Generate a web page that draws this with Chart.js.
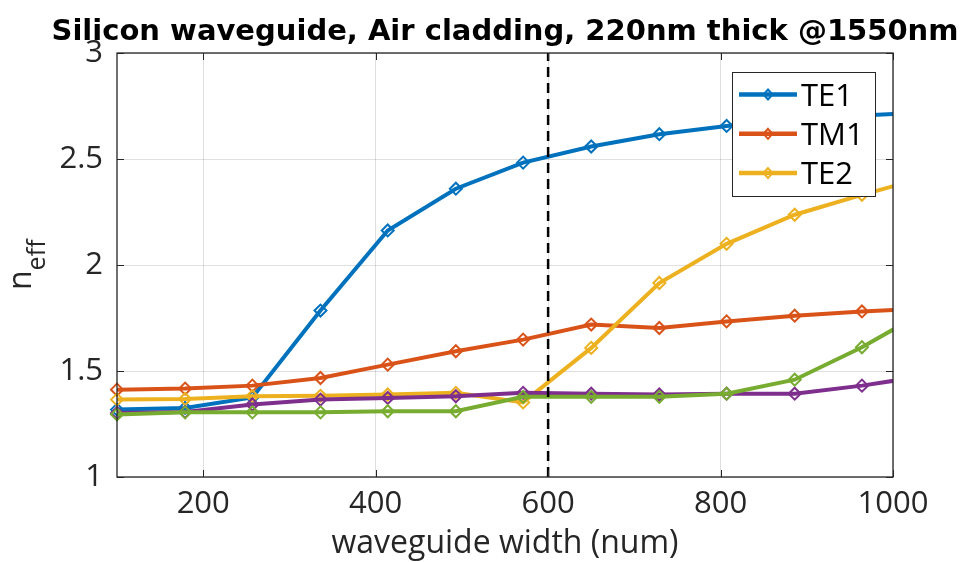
<!DOCTYPE html>
<html>
<head>
<meta charset="utf-8">
<script src="https://cdn.jsdelivr.net/npm/chart.js@4/dist/chart.umd.min.js"></script>
<style>
  html, body { margin: 0; padding: 0; background: #fff; }
  #neff { display: block; }
</style>
</head>
<body>
<canvas id="neff" width="962" height="562"></canvas>
<script>
// waveguide widths (nm) where the modes were solved; last point runs past the axis limit
var widths = [100, 179, 257, 336, 414, 493, 571, 650, 729, 807, 886, 964, 1043];

var te1 = [1.318, 1.326, 1.375, 1.785, 2.163, 2.360, 2.483, 2.559, 2.617, 2.656, 2.685, 2.705, 2.720];
var tm1 = [1.412, 1.417, 1.431, 1.467, 1.530, 1.593, 1.648, 1.719, 1.703, 1.734, 1.761, 1.781, 1.795];
var te2 = [1.365, 1.368, 1.381, 1.383, 1.389, 1.397, 1.352, 1.609, 1.915, 2.100, 2.237, 2.331, 2.420];
var mode4 = [1.302, 1.307, 1.342, 1.365, 1.373, 1.381, 1.397, 1.393, 1.389, 1.393, 1.393, 1.431, 1.480];
var mode5 = [1.295, 1.305, 1.305, 1.305, 1.310, 1.310, 1.378, 1.378, 1.378, 1.393, 1.459, 1.612, 1.795];

// marker line at the design width
var cutWidth = 600;

var xTicks = [200, 400, 600, 800, 1000];
var yTicks = [1, 1.5, 2, 2.5, 3];

var FONT = '"Open Sans", "Noto Sans", sans-serif';
var TITLE_FONT = '"DejaVu Sans", sans-serif';
var AXIS_COLOR = '#262626';

function pts(ys) {
  return ys.map(function (v, i) { return { x: widths[i], y: v }; });
}

function series(label, ys, color, order) {
  return {
    label: label,
    data: pts(ys),
    borderColor: color,
    borderWidth: 4,
    pointStyle: 'rectRot',
    pointRadius: 6,
    pointBorderWidth: 2,
    pointBorderColor: color,
    pointBackgroundColor: 'rgba(0,0,0,0)',
    tension: 0,
    order: order,
    clip: { left: 10, top: 10, right: 0, bottom: 10 }
  };
}

var datasets = [
  series('TE1', te1, '#0072BD', 5),
  series('TM1', tm1, '#D95319', 4),
  series('TE2', te2, '#EDB120', 3),
  series('', mode4, '#7E2F8E', 2),
  series('', mode5, '#77AC30', 1),
  {
    label: '',
    data: [{ x: cutWidth, y: yTicks[0] }, { x: cutWidth, y: yTicks[yTicks.length - 1] }],
    borderColor: '#000',
    borderWidth: 2.5,
    borderDash: [10, 6],
    pointRadius: 0,
    order: 0
  }
];

var legendItems = [0, 1, 2];

// MATLAB-like axes: box, inward ticks, boxed legend, title and subscripted y label
var axesDecor = {
  id: 'axesDecor',
  afterDraw: function (chart) {
    var ctx = chart.ctx;
    var a = chart.chartArea;
    var xs = chart.scales.x, ys = chart.scales.y;
    ctx.save();

    // inward ticks
    ctx.strokeStyle = AXIS_COLOR;
    ctx.lineWidth = 1;
    ctx.beginPath();
    xTicks.forEach(function (v) {
      var px = Math.round(xs.getPixelForValue(v)) + 0.5;
      ctx.moveTo(px, a.bottom); ctx.lineTo(px, a.bottom - 7);
      ctx.moveTo(px, a.top); ctx.lineTo(px, a.top + 7);
    });
    yTicks.forEach(function (v) {
      var py = Math.round(ys.getPixelForValue(v)) + 0.5;
      ctx.moveTo(a.left, py); ctx.lineTo(a.left + 7, py);
      ctx.moveTo(a.right, py); ctx.lineTo(a.right - 7, py);
    });
    ctx.stroke();

    // axes box
    ctx.lineWidth = 1.3;
    ctx.strokeRect(a.left, a.top, a.right - a.left, a.bottom - a.top);

    // legend
    var lx = 732, ly = 72, lw = 143, lh = 124;
    ctx.fillStyle = '#fff';
    ctx.fillRect(lx, ly, lw, lh);
    ctx.lineWidth = 1;
    ctx.strokeStyle = AXIS_COLOR;
    ctx.strokeRect(lx + 0.5, ly + 0.5, lw, lh);
    ctx.font = '31px ' + FONT;
    ctx.textAlign = 'left';
    ctx.textBaseline = 'alphabetic';
    legendItems.forEach(function (di, row) {
      var ds = chart.data.datasets[di];
      var cy = 94.5 + row * 39.3;
      ctx.strokeStyle = ds.borderColor;
      ctx.lineWidth = 4.5;
      ctx.beginPath();
      ctx.moveTo(739, cy); ctx.lineTo(797, cy);
      ctx.stroke();
      ctx.lineWidth = 2;
      ctx.beginPath();
      ctx.moveTo(768, cy - 5); ctx.lineTo(772.5, cy);
      ctx.lineTo(768, cy + 5); ctx.lineTo(763.5, cy);
      ctx.closePath();
      ctx.stroke();
      ctx.fillStyle = '#000';
      ctx.fillText(ds.label, 801, cy + 11.2);
    });

    // title
    ctx.fillStyle = '#000';
    ctx.font = 'bold 29px ' + TITLE_FONT;
    ctx.textAlign = 'center';
    ctx.fillText('Silicon waveguide, Air cladding, 220nm thick @1550nm', (a.left + a.right) / 2, 39.5);

    // y label: n with "eff" subscript
    ctx.translate(30.7, 290);
    ctx.rotate(-Math.PI / 2);
    ctx.textAlign = 'left';
    ctx.fillStyle = AXIS_COLOR;
    ctx.font = '32px ' + FONT;
    ctx.fillText('n', 0, 0);
    var nw = ctx.measureText('n').width;
    ctx.font = '25px ' + FONT;
    ctx.fillText('eff', nw, 14.3);

    ctx.restore();
  }
};

var ctx = document.getElementById('neff').getContext('2d');
var chart = new Chart(ctx, {
  type: 'line',
  data: { datasets: datasets },
  options: {
    responsive: false,
    animation: false,
    layout: { padding: { top: 53, right: 69, left: 0, bottom: 0 } },
    plugins: {
      legend: { display: false },
      tooltip: { enabled: false },
      title: { display: false }
    },
    scales: {
      x: {
        type: 'linear',
        min: 100,
        max: 1000,
        afterBuildTicks: function (scale) {
          scale.ticks = xTicks.map(function (v) { return { value: v }; });
        },
        afterFit: function (scale) { scale.height = 85; },
        grid: { color: 'rgba(38,38,38,0.15)', lineWidth: 1, drawTicks: false },
        border: { display: false },
        ticks: {
          color: AXIS_COLOR,
          padding: 9,
          maxRotation: 0,
          font: { family: FONT, size: 31 },
          callback: function (v) { return String(v); }
        },
        title: {
          display: true,
          text: 'waveguide width (num)',
          color: AXIS_COLOR,
          padding: { top: 0, bottom: -1 },
          font: { family: FONT, size: 32 }
        }
      },
      y: {
        type: 'linear',
        min: 1,
        max: 3,
        afterBuildTicks: function (scale) {
          scale.ticks = yTicks.map(function (v) { return { value: v }; });
        },
        afterFit: function (scale) { scale.width = 117; },
        grid: { color: 'rgba(38,38,38,0.15)', lineWidth: 1, drawTicks: false },
        border: { display: false },
        ticks: {
          color: AXIS_COLOR,
          padding: 14,
          font: { family: FONT, size: 31 },
          callback: function (v) { return String(v); }
        }
      }
    }
  },
  plugins: [axesDecor]
});
</script>
</body>
</html>
